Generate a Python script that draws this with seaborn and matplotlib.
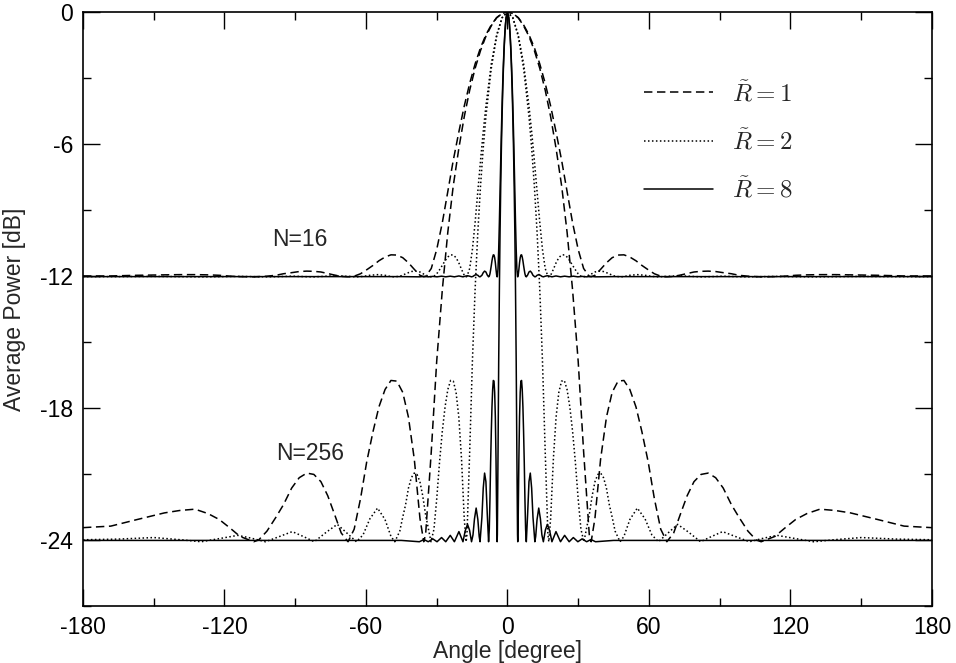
import numpy as np
import pandas as pd
import matplotlib
matplotlib.use("Agg")
import matplotlib.pyplot as plt
import seaborn as sns
from matplotlib.ticker import MultipleLocator

# half patterns (0..180 deg); curves are symmetric about 0
ang_r1 = [0, 2.3, 4.6, 6.8, 9.1, 11.4, 13.7, 16.0, 18.3, 20.6, 23.0, 25.3, 27.6, 30.0, 32.3,
          34.7, 35.5, 37.1, 39.5, 42.0, 44.4, 46.9, 49.4, 51.9, 54.5, 57.0, 59.7, 62.3, 65.0, 67.6,
          70.5, 73.3, 76.2, 79.1, 82.1, 85.1, 88.3, 91.5, 95.0, 98.2, 102.0, 105.5, 107.6, 113.4,
          117.5, 122.2, 127.0, 132.5, 139.0, 145.5, 157.0, 168.2, 180.0]
n256_r1 = [0, -0.07, -0.27, -0.62, -1.10, -1.75, -2.56, -3.55, -4.75, -6.19, -7.92, -10.02,
           -12.61, -15.88, -19.98, -23.75, -24.08, -23.02, -20.33, -18.41, -17.29, -16.78, -16.75,
           -17.16, -17.95, -19.07, -20.46, -22.12, -23.51, -24.08, -23.68, -22.84, -21.99, -21.35,
           -21.02, -20.96, -21.17, -21.64, -22.40, -22.97, -23.60, -24.00, -24.08, -23.84, -23.47,
           -23.07, -22.80, -22.60, -22.66, -22.77, -23.07, -23.37, -23.44]
n16_r1 = [0, -0.07, -0.26, -0.58, -1.03, -1.62, -2.36, -3.24, -4.27, -5.45, -6.76, -8.17, -9.57,
          -10.80, -11.66, -12.02, -12.04, -11.97, -11.70, -11.40, -11.17, -11.05, -11.04, -11.14,
          -11.31, -11.52, -11.72, -11.90, -12.01, -12.04, -12.02, -11.96, -11.89, -11.82, -11.79,
          -11.78, -11.80, -11.85, -11.90, -11.97, -12.01, -12.03, -12.04, -12.03, -12.01, -11.97,
          -11.95, -11.94, -11.94, -11.95, -11.97, -12.00, -12.00]

ang_r2 = [0, 2.28, 4.56, 6.85, 9.13, 10.27, 11.42, 12.57, 13.71, 14.86, 16.01, 17.16, 17.54,
          18.32, 19.47, 20.63, 21.79, 22.95, 24.11, 25.28, 26.45, 27.63, 28.80, 29.98, 31.16,
          32.42, 34.73, 35.93, 37.12, 38.33, 39.54, 40.75, 41.97, 43.20, 44.42, 45.66, 47.76,
          49.39, 51.92, 55.08, 58.35, 61.24, 64.04, 67.72, 72.16, 76.75, 81.90, 86.38, 91.24,
          96.86, 102.62, 108.54, 114.36, 121.24, 129.86, 138.5, 150.0, 165.0, 180.0]
n256_r2 = [0, -0.27, -1.10, -2.56, -4.75, -6.19, -7.92, -10.02, -12.61, -15.88, -19.98, -23.75,
           -24.08, -23.02, -20.33, -18.41, -17.29, -16.78, -16.75, -17.16, -17.95, -19.07, -20.46,
           -22.12, -23.51, -24.08, -22.84, -21.99, -21.35, -21.02, -20.96, -21.17, -21.64, -22.40,
           -22.97, -23.60, -24.08, -23.84, -23.07, -22.55, -23.04, -23.77, -24.08, -23.72, -23.29,
           -23.64, -24.08, -23.85, -23.62, -23.85, -24.08, -23.92, -23.79, -23.92, -24.08, -23.99,
           -23.89, -23.96, -23.99]
n16_r2 = [0, -0.26, -1.03, -2.36, -4.27, -5.45, -6.76, -8.17, -9.57, -10.80, -11.66, -12.02,
          -12.04, -11.97, -11.70, -11.40, -11.17, -11.05, -11.04, -11.14, -11.31, -11.52, -11.72,
          -11.90, -12.01, -12.04, -11.96, -11.89, -11.82, -11.79, -11.78, -11.80, -11.85, -11.90,
          -11.97, -12.01, -12.04, -12.03, -11.97, -11.94, -11.97, -12.02, -12.04, -12.02, -11.99,
          -12.01, -12.04, -12.03, -12.01, -12.03, -12.04, -12.03, -12.02, -12.03, -12.04, -12.03,
          -12.02, -12.03, -12.03]

ang_r8 = [0, 0.57, 0.86, 1.14, 1.43, 1.71, 2.00, 2.28, 2.57, 2.85, 3.14, 3.42, 3.71, 3.99, 4.28,
          4.37, 4.56, 4.85, 5.13, 5.42, 5.70, 5.99, 6.27, 6.56, 6.84, 7.13, 7.41, 7.70, 8.00, 8.55,
          9.13, 9.69, 10.26, 10.83, 11.62, 11.98, 12.55, 13.27, 13.98, 14.61, 15.23, 16.08, 16.93,
          17.90, 18.86, 20.58, 22.50, 24.25, 26.17, 27.94, 29.86, 31.65, 33.59, 35.41, 37.35,
          45.0, 90.0, 180.0]
n256_r8 = [0, -0.27, -0.62, -1.10, -1.75, -2.56, -3.55, -4.75, -6.19, -7.92, -10.02, -12.61,
           -15.88, -19.98, -23.75, -24.08, -23.02, -20.33, -18.41, -17.29, -16.78, -16.75, -17.16,
           -17.95, -19.07, -20.46, -22.12, -23.51, -24.08, -22.84, -21.35, -20.96, -21.64, -22.97,
           -24.08, -23.84, -23.07, -22.55, -23.04, -23.77, -24.08, -23.55, -23.29, -23.58, -24.08,
           -23.62, -24.08, -23.79, -24.08, -23.89, -24.08, -23.95, -24.08, -23.98, -24.08, -24.02,
           -24.02, -24.02]
n16_r8 = [0, -0.26, -0.58, -1.03, -1.62, -2.36, -3.24, -4.27, -5.45, -6.76, -8.17, -9.57, -10.80,
          -11.66, -12.02, -12.04, -11.97, -11.70, -11.40, -11.17, -11.05, -11.04, -11.14, -11.31,
          -11.52, -11.72, -11.90, -12.01, -12.04, -11.96, -11.82, -11.78, -11.85, -11.97, -12.04,
          -12.03, -11.97, -11.94, -11.97, -12.02, -12.04, -12.01, -11.99, -12.01, -12.04, -12.00,
          -12.04, -12.01, -12.04, -12.01, -12.04, -12.02, -12.04, -12.02, -12.04, -12.03, -12.03,
          -12.03]

x_ticks = [-180, -120, -60, 0, 60, 120, 180]
y_ticks = [0, -6, -12, -18, -24]
legend_labels = {1: r"$\tilde{R}=1$", 2: r"$\tilde{R}=2$", 8: r"$\tilde{R}=8$"}


def mirror(ang, val):
    ang = np.asarray(ang, dtype=float)
    val = np.asarray(val, dtype=float)
    return np.concatenate([-ang[::-1], ang[1:]]), np.concatenate([val[::-1], val[1:]])


curves = [(1, 16, ang_r1, n16_r1), (1, 256, ang_r1, n256_r1),
          (2, 16, ang_r2, n16_r2), (2, 256, ang_r2, n256_r2),
          (8, 16, ang_r8, n16_r8), (8, 256, ang_r8, n256_r8)]
frames = []
for r, n, a, v in curves:
    x, y = mirror(a, v)
    frames.append(pd.DataFrame({"angle": x, "power": y, "R": r, "N": n}))
df = pd.concat(frames, ignore_index=True)

sns.set_style("ticks")
plt.rcParams["font.family"] = ["Liberation Sans", "DejaVu Sans"]
plt.rcParams["mathtext.fontset"] = "cm"
plt.rcParams["axes.unicode_minus"] = False

fig = plt.figure(figsize=(9.56, 6.63), dpi=100)
ax = fig.add_axes([0.0868, 0.086, 0.888, 0.896])

styles = {1: (0, (5.5, 3.0)), 2: (0, (1.0, 1.6)), 8: "-"}
for (r, n), sub in df.groupby(["R", "N"]):
    sns.lineplot(data=sub, x="angle", y="power", ax=ax, color="black", lw=1.1,
                 linestyle=styles[r], sort=False, estimator=None, legend=False,
                 label=legend_labels[r] if n == 256 else "_nolegend_")

ax.set_xlim(-180, 180)
ax.set_ylim(-27, 0)
ax.set_xticks(x_ticks)
ax.set_yticks(y_ticks)
ax.xaxis.set_minor_locator(MultipleLocator(30))
ax.yaxis.set_minor_locator(MultipleLocator(3))
ax.tick_params(which="both", direction="in", top=True, right=True, width=1.0, colors="black")
ax.tick_params(which="major", length=12, labelsize=16.5, pad=7)
ax.tick_params(which="minor", length=6)
for s in ax.spines.values():
    s.set_linewidth(1.2)
    s.set_color("black")

ax.set_xlabel("Angle [degree]", fontsize=16.5, labelpad=1)
ax.set_ylabel("Average Power [dB]", fontsize=16.5, labelpad=10)

ax.text(-88, -10.36, "N=16", ha="center", va="center", fontsize=16.5)
ax.text(-83.8, -20.05, "N=256", ha="center", va="center", fontsize=16.5)

handles, labels = ax.get_legend_handles_labels()
ax.legend(handles, labels, loc="upper left", bbox_to_anchor=(0.634, 0.923), frameon=False,
          fontsize=18, handlelength=2.76, labelspacing=0.9, handletextpad=0.76)

fig.savefig("out.png", dpi=100)
